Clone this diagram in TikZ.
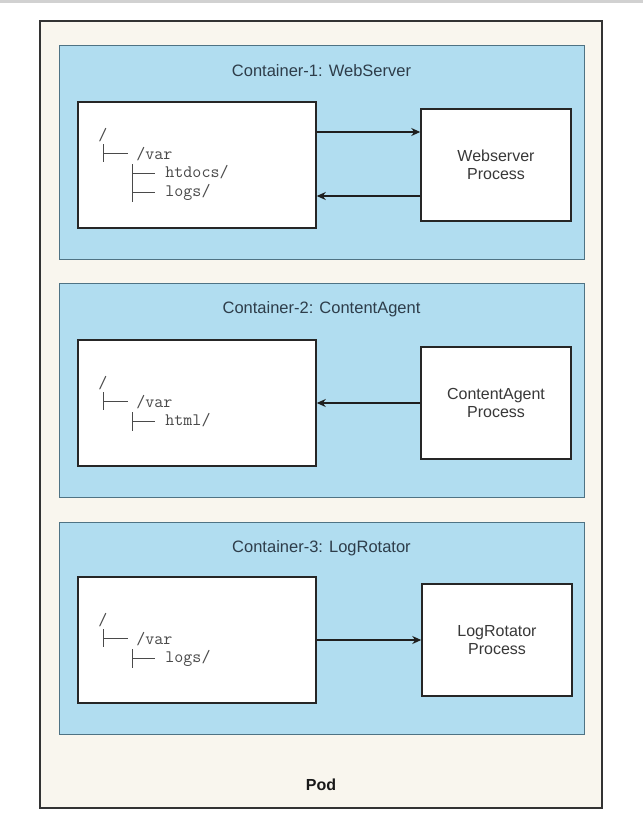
\documentclass[tikz,border=0pt]{standalone}
\usepackage{fontspec}
\setmainfont{Liberation Sans}
\usetikzlibrary{arrows.meta,positioning}

\definecolor{podfill}{HTML}{F9F6EE}
\definecolor{podline}{HTML}{333333}
\definecolor{ctrfill}{HTML}{B1DDF0}
\definecolor{ctrline}{HTML}{4F7384}
\definecolor{titletext}{HTML}{2E3D4A}
\definecolor{treegray}{HTML}{4A4A4A}

% directory tree inside a filesystem box: #1 box, #2 offset from top, #3 sub folders
\newcommand{\dirtree}[3]{%
  \begin{scope}[shift={(#1.north west)}, shift={(21,#2)}]
    \node[tree text] (#1-root) at (0,0) {/};
    \draw[tree line] (5,4) -- (5,22) (5,13) -- (30,13);
    \node[tree text] (#1-var) at (38,19) {/var};
    \foreach \sub [count=\i] in {#3} {
      \draw[tree line] (34,{5+19*\i}) -- (34,{24+19*\i}) (34,{14+19*\i}) -- (57,{14+19*\i});
      \node[tree text] (#1-sub\i) at (67,{18+19*\i}) {\sub};
    }
  \end{scope}}

\begin{document}
\begin{tikzpicture}[x=1pt, y=-1pt]
  \tikzset{
    pod/.style={draw=podline, line width=1.2pt, fill=podfill, minimum width=562pt, minimum height=787pt},
    container/.style={draw=ctrline, line width=1pt, fill=ctrfill, minimum width=525pt},
    title/.style={inner sep=0pt, text=titletext, font=\fontsize{16.5pt}{19pt}\selectfont},
    fsbox/.style={draw=black!85, line width=1.5pt, fill=white, minimum width=238pt, minimum height=126pt},
    procbox/.style={draw=black!85, line width=1.5pt, fill=white, minimum width=150pt, minimum height=112pt,
      align=center, text=black!78, font=\fontsize{16pt}{18.5pt}\selectfont},
    tree text/.style={anchor=base west, inner sep=0pt, text=treegray, font=\ttfamily\fontsize{17.5pt}{19pt}\selectfont},
    tree line/.style={treegray, line width=1pt},
    flow/.style={line width=1.4pt, draw=black!88, -{Stealth[length=9pt, width=8pt]}}
  }

  \useasboundingbox (0,0) rectangle (643,837);
  \fill[black!18] (0,0) rectangle (643,3);

  % Pod
  \node[pod] (pod) at (321,414.5) {};
  \node[inner sep=0pt, font=\bfseries\fontsize{16pt}{19pt}\selectfont, text=black!90, above=18pt of pod.south] (podlabel) {Pod};

  % Container 1
  \node[container, minimum height=213pt] (c1) at (321.5,152.5) {};
  \node[title, below=19pt of c1.north] (c1title) {Container-1: WebServer};
  \node[fsbox] (fs1) at (197,165) {};
  \node[procbox] (proc1) at (496,165) {Webserver\\Process};
  \dirtree{fs1}{39}{htdocs/,logs/}
  \draw[flow] ([yshift=33pt]fs1.east) -- ([yshift=33pt]proc1.west);
  \draw[flow] ([yshift=-31pt]proc1.west) -- ([yshift=-31pt]fs1.east);

  % Container 2
  \node[container, minimum height=214pt] (c2) at (321.5,390) {};
  \node[title, below=19pt of c2.north] (c2title) {Container-2: ContentAgent};
  \node[fsbox] (fs2) at (197,403) {};
  \node[procbox] (proc2) at (496,403) {ContentAgent\\Process};
  \dirtree{fs2}{49}{html/}
  \draw[flow] (proc2.west) -- (fs2.east);

  % Container 3
  \node[container, minimum height=212pt] (c3) at (321.5,628) {};
  \node[title, below=19pt of c3.north] (c3title) {Container-3: LogRotator};
  \node[fsbox] (fs3) at (197,640) {};
  \node[procbox] (proc3) at (497,640) {LogRotator\\Process};
  \dirtree{fs3}{49}{logs/}
  \draw[flow] (fs3.east) -- (proc3.west);
\end{tikzpicture}
\end{document}
